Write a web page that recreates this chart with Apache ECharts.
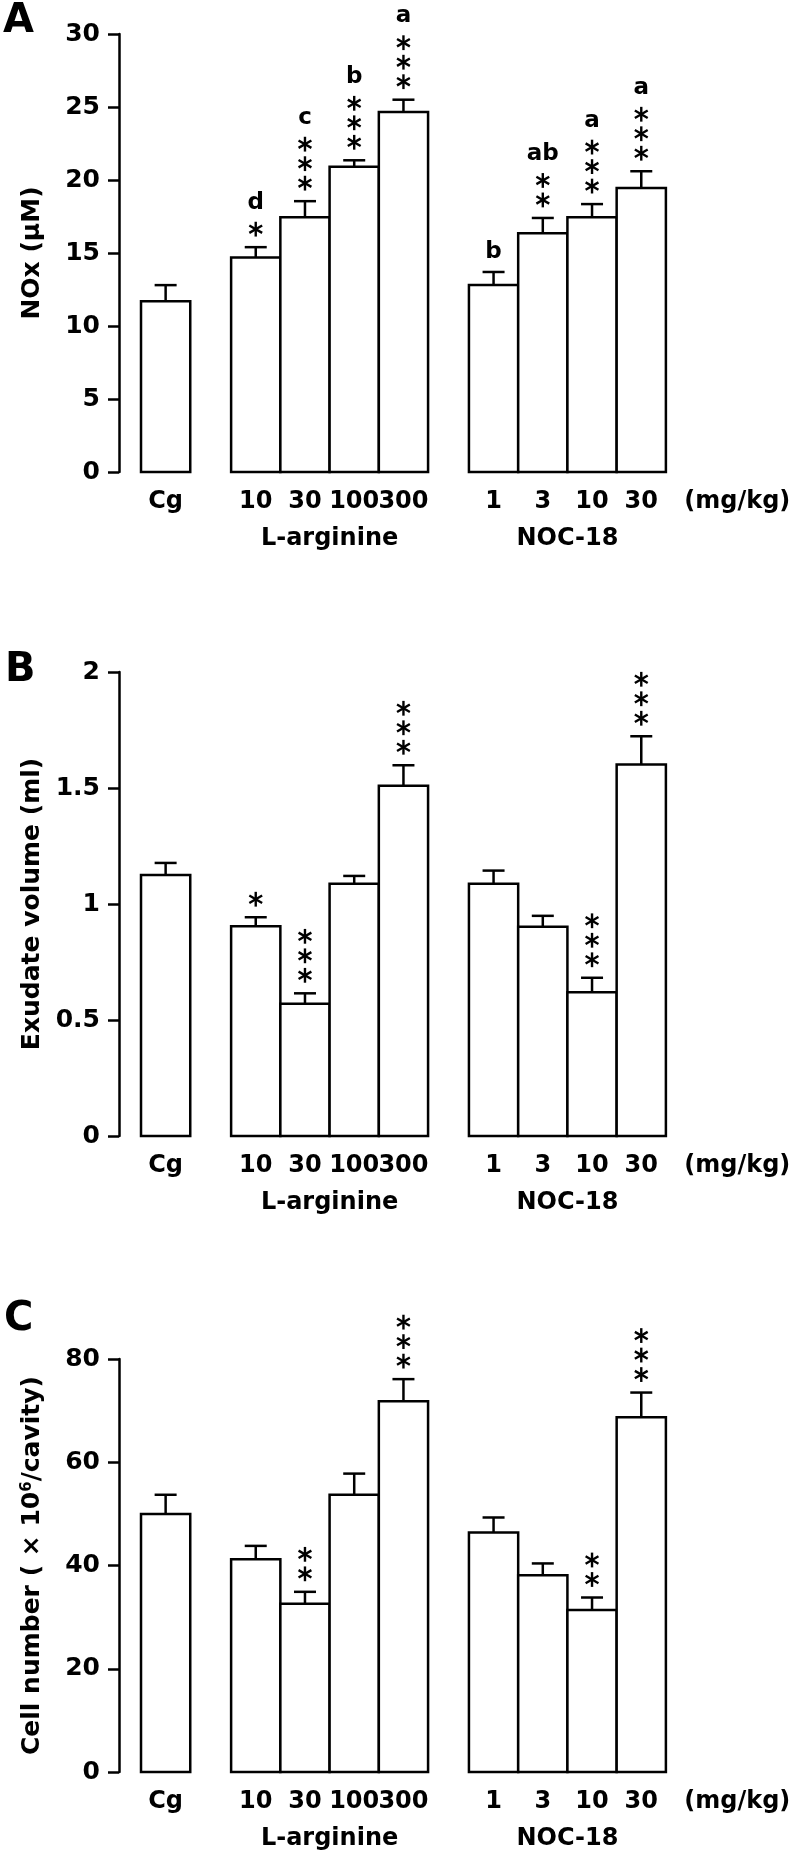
<!DOCTYPE html>
<html><head><meta charset="utf-8">
<script src="https://cdn.jsdelivr.net/npm/echarts@6/dist/echarts.min.js"></script>
<style>html,body{margin:0;padding:0;background:#fff}#c{width:791px;height:1858px}</style>
</head><body><div id="c"></div>
<script>
// ---------- data ----------
const doseLabels = ['Cg', '10', '30', '100', '300', '1', '3', '10', '30'];
const groupOf = [0, 1, 1, 1, 1, 2, 2, 2, 2];
const groupNames = ['', 'L-arginine', 'NOC-18'];
const unitLabel = '(mg/kg)';
const panelLetters = ['A', 'B', 'C'];
const yNames = ['NOx (µM)', 'Exudate volume (ml)', 'Cell number ( × 10{sup|6}/cavity)'];

const noxMean = [11.7, 14.7, 17.45, 20.9, 24.65, 12.8, 16.35, 17.45, 19.45];
const noxSem = [1.1, 0.7, 1.1, 0.45, 0.85, 0.9, 1.05, 0.9, 1.15];
const noxStars = [0, 1, 3, 3, 3, 0, 2, 3, 3];
const noxLetters = ['', 'd', 'c', 'b', 'a', 'b', 'ab', 'a', 'a'];

const exuMean = [1.125, 0.904, 0.570, 1.087, 1.51, 1.087, 0.902, 0.620, 1.601];
const exuSem = [0.052, 0.039, 0.045, 0.034, 0.088, 0.057, 0.047, 0.062, 0.122];
const exuStars = [0, 1, 3, 0, 3, 0, 0, 3, 3];

const cellMean = [50.0, 41.2, 32.6, 53.7, 71.8, 46.4, 38.1, 31.4, 68.7];
const cellSem = [3.7, 2.6, 2.3, 4.1, 4.3, 2.9, 2.3, 2.4, 4.8];
const cellStars = [0, 0, 2, 0, 3, 0, 0, 2, 3];

const yMax = [30, 2, 80];
const yStep = [5, 0.5, 20];

// ---------- layout ----------
const FONT = '"DejaVu Sans", sans-serif';
const groupGap = 0.83;
const xPos = doseLabels.map((_, i) => i + groupGap * groupOf[i]);
const grids = [
  { left: 119, top: 34, width: 637, height: 438 },
  { left: 119, top: 672, width: 637, height: 464 },
  { left: 119, top: 1359, width: 637, height: 413 }
];
const xMin = -0.947, xMax = 11.99;

const labelItems = [];
doseLabels.forEach((t, i) => labelItems.push({ x: xPos[i], text: t, row: 0 }));
[1, 2].forEach(g => {
  const xs = xPos.filter((_, i) => groupOf[i] === g);
  labelItems.push({ x: (xs[0] + xs[xs.length - 1]) / 2, text: groupNames[g], row: 1 });
});
labelItems.push({ x: xPos[xPos.length - 1] + 1.95, text: unitLabel, row: 0 });

function star(cx, cy) {
  const r = 7.4, out = [];
  for (let a = 0; a < 3; a++) {
    const ang = Math.PI / 2 + a * Math.PI / 3;
    const dx = r * Math.cos(ang), dy = r * Math.sin(ang);
    out.push({ type: 'line', shape: { x1: cx - dx, y1: cy - dy, x2: cx + dx, y2: cy + dy },
      style: { stroke: '#000', lineWidth: 2.4 } });
  }
  return out;
}

function barSeries(p, mean, sem, stars, letters) {
  return {
    type: 'custom', xAxisIndex: p, yAxisIndex: p, clip: false,
    data: mean.map((m, i) => [xPos[i], m, sem[i]]),
    renderItem(params, api) {
      const i = params.dataIndex;
      const x = api.value(0), m = api.value(1), e = api.value(2);
      const bl = api.coord([x - 0.5, 0]), tr = api.coord([x + 0.5, m]);
      const c = api.coord([x, m + e]);
      const cx = (bl[0] + tr[0]) / 2;
      const ch = [
        { type: 'rect', shape: { x: bl[0], y: tr[1], width: tr[0] - bl[0], height: bl[1] - tr[1] },
          style: { fill: '#fff', stroke: '#000', lineWidth: 2.5 } },
        { type: 'line', shape: { x1: cx, y1: tr[1], x2: cx, y2: c[1] }, style: { stroke: '#000', lineWidth: 2.5 } },
        { type: 'line', shape: { x1: cx - 11, y1: c[1], x2: cx + 11, y2: c[1] }, style: { stroke: '#000', lineWidth: 2.5 } }
      ];
      let top = c[1];
      for (let k = 0; k < stars[i]; k++) {
        const sy = c[1] - 18 - 19.5 * k;
        star(cx, sy).forEach(s => ch.push(s));
        top = sy;
      }
      if (letters && letters[i]) {
        ch.push({ type: 'text', style: { text: letters[i], x: cx, y: stars[i] ? top - 15 : c[1] - 8,
          align: 'center', verticalAlign: 'bottom', font: 'bold 23px ' + FONT, fill: '#000' } });
      }
      return { type: 'group', children: ch };
    }
  };
}

function labelSeries(p) {
  return {
    type: 'custom', xAxisIndex: p, yAxisIndex: p, clip: false,
    data: labelItems.map(l => [l.x, 0]),
    renderItem(params, api) {
      const l = labelItems[params.dataIndex];
      const pt = api.coord([api.value(0), 0]);
      return { type: 'text', style: { text: l.text, x: pt[0], y: pt[1] + (l.row ? 67 : 30),
        align: 'center', verticalAlign: 'middle', font: 'bold 24px ' + FONT, fill: '#000' } };
    }
  };
}

const option = {
  animation: false,
  grid: grids,
  xAxis: grids.map((_, i) => ({ type: 'value', gridIndex: i, min: xMin, max: xMax, show: false })),
  yAxis: grids.map((_, i) => ({
    type: 'value', gridIndex: i, min: 0, max: yMax[i], interval: yStep[i],
    name: yNames[i], nameLocation: 'middle', nameGap: 74,
    nameTextStyle: { fontFamily: FONT, fontWeight: 'bold', fontSize: 25, color: '#000',
      rich: { sup: { fontFamily: FONT, fontWeight: 'bold', fontSize: 15, color: '#000', verticalAlign: 'top', padding: [0, 0, 8, 0] } } },
    axisLine: { show: true, onZero: false, lineStyle: { color: '#000', width: 2.5 } },
    axisTick: { show: true, length: 11, lineStyle: { color: '#000', width: 2.5 } },
    axisLabel: { margin: 19, fontFamily: FONT, fontWeight: 'bold', fontSize: 25, color: '#000' },
    splitLine: { show: false }
  })),
  graphic: [
    { type: 'text', left: 3, top: 2, style: { text: panelLetters[0], font: 'bold 40px ' + FONT, fill: '#000' } },
    { type: 'text', left: 5, top: 651, style: { text: panelLetters[1], font: 'bold 40px ' + FONT, fill: '#000' } },
    { type: 'text', left: 4, top: 1300, style: { text: panelLetters[2], font: 'bold 40px ' + FONT, fill: '#000' } }
  ],
  series: [
    barSeries(0, noxMean, noxSem, noxStars, noxLetters),
    barSeries(1, exuMean, exuSem, exuStars, null),
    barSeries(2, cellMean, cellSem, cellStars, null),
    labelSeries(0), labelSeries(1), labelSeries(2)
  ]
};
const chart = echarts.init(document.getElementById('c'), null, { renderer: 'canvas' });
chart.setOption(option);
</script></body></html>
